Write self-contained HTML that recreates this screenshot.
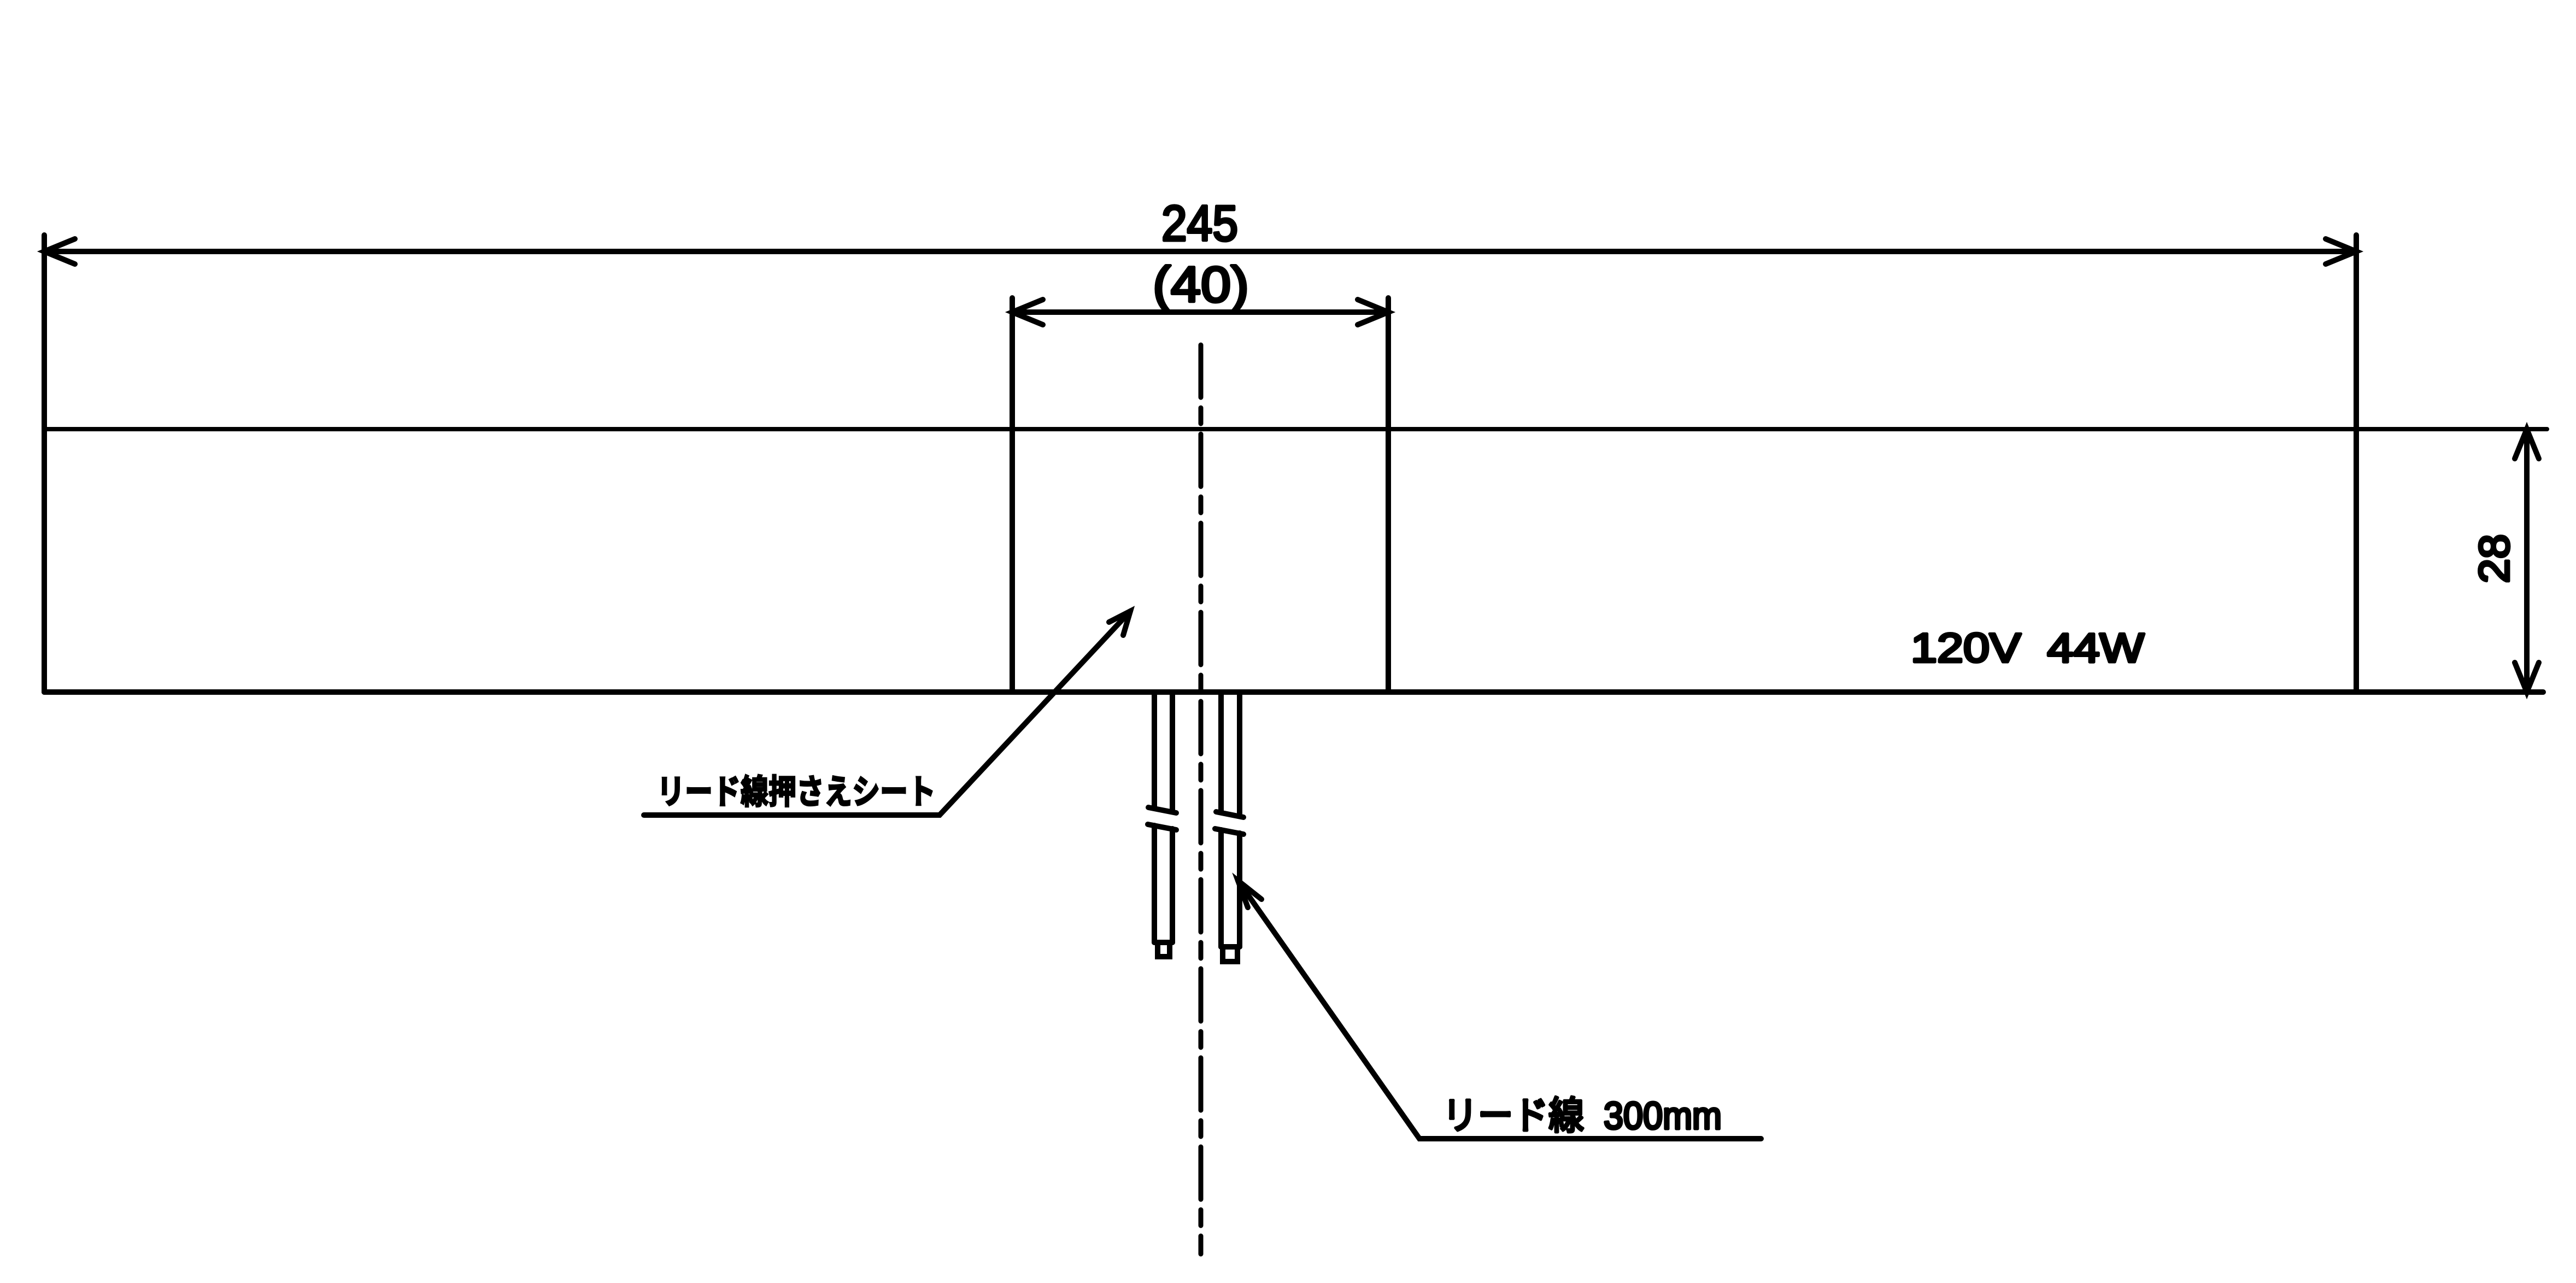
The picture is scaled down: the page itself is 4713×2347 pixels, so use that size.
<!DOCTYPE html>
<html><head><meta charset="utf-8"><style>
html,body{margin:0;padding:0;background:#fff}
svg{display:block}
text{font-family:"Liberation Sans","Noto Sans CJK JP",sans-serif;fill:#000}
.n{stroke:#000;stroke-width:5;stroke-linejoin:round}
</style></head><body>
<svg width="4713" height="2347" viewBox="0 0 4713 2347" xmlns="http://www.w3.org/2000/svg">
<g stroke="#000" stroke-width="10" stroke-linecap="round" fill="none">
<line x1="81" y1="785" x2="4660" y2="785" stroke-width="8"/>
<line x1="81" y1="1266" x2="4653" y2="1266"/>
<line x1="81" y1="430" x2="81" y2="1266"/>
<line x1="4311" y1="430" x2="4311" y2="1266"/>
<line x1="1852" y1="545" x2="1852" y2="1266"/>
<line x1="2540" y1="545" x2="2540" y2="1266"/>
<line x1="81" y1="460" x2="4311" y2="460"/>
<polyline points="137,437 81,460 137,483"/>
<polyline points="4255,437 4311,460 4255,483"/>
<line x1="1852" y1="571" x2="2540" y2="571"/>
<polyline points="1908,548 1852,571 1908,594"/>
<polyline points="2484,548 2540,571 2484,594"/>
<line x1="4623" y1="785" x2="4623" y2="1266"/>
<polyline points="4601,839 4623,785 4645,839"/>
<polyline points="4601,1212 4623,1266 4645,1212"/>
<line x1="2197" y1="631" x2="2197" y2="2294" stroke-dasharray="96 19 29 19" stroke-width="9"/>
<line x1="2112" y1="1266" x2="2112" y2="1478"/>
<line x1="2145" y1="1266" x2="2145" y2="1484"/>
<line x1="2101" y1="1477" x2="2152" y2="1487"/>
<line x1="2100" y1="1508" x2="2152" y2="1518"/>
<line x1="2112" y1="1510" x2="2112" y2="1724"/>
<line x1="2145" y1="1516" x2="2145" y2="1724"/>
<line x1="2112" y1="1724" x2="2145" y2="1724"/>
<polyline points="2118,1724 2118,1750 2140,1750 2140,1724"/>
<line x1="2234" y1="1266" x2="2234" y2="1486"/>
<line x1="2268" y1="1266" x2="2268" y2="1492"/>
<line x1="2225" y1="1485" x2="2275" y2="1495"/>
<line x1="2223" y1="1516" x2="2275" y2="1526"/>
<line x1="2234" y1="1518" x2="2234" y2="1732"/>
<line x1="2268" y1="1524" x2="2268" y2="1732"/>
<line x1="2234" y1="1732" x2="2268" y2="1732"/>
<polyline points="2237,1732 2237,1759 2264,1759 2264,1732"/>
<polyline points="1178,1491 1719,1491 2068,1118"/>
<polyline points="2029,1138 2068,1118 2055,1162"/>
<polyline points="3222,2083 2597,2083 2265,1611"/>
<polyline points="2308,1645 2265,1611 2283,1660"/>
</g>
<text class="n" x="2195" y="440" font-size="92" text-anchor="middle" textLength="140" lengthAdjust="spacingAndGlyphs">245</text>
<text class="n" x="2197" y="552" font-size="92" text-anchor="middle" textLength="176" lengthAdjust="spacingAndGlyphs">(40)</text>
<text class="n" x="3496" y="1211" font-size="75" textLength="427" lengthAdjust="spacingAndGlyphs" xml:space="preserve">120V  44W</text>
<text class="n" transform="translate(4590,1022) rotate(-90)" font-size="78" text-anchor="middle" textLength="90" lengthAdjust="spacingAndGlyphs">28</text>
<text x="1202" y="1470" font-size="62" font-weight="bold" stroke="#000" stroke-width="3" textLength="510" lengthAdjust="spacingAndGlyphs">リード線押さえシート</text>
<text class="n" x="2639" y="2065" font-size="70" textLength="511" lengthAdjust="spacingAndGlyphs" xml:space="preserve">リード線  300mm</text>
</svg>
</body></html>
